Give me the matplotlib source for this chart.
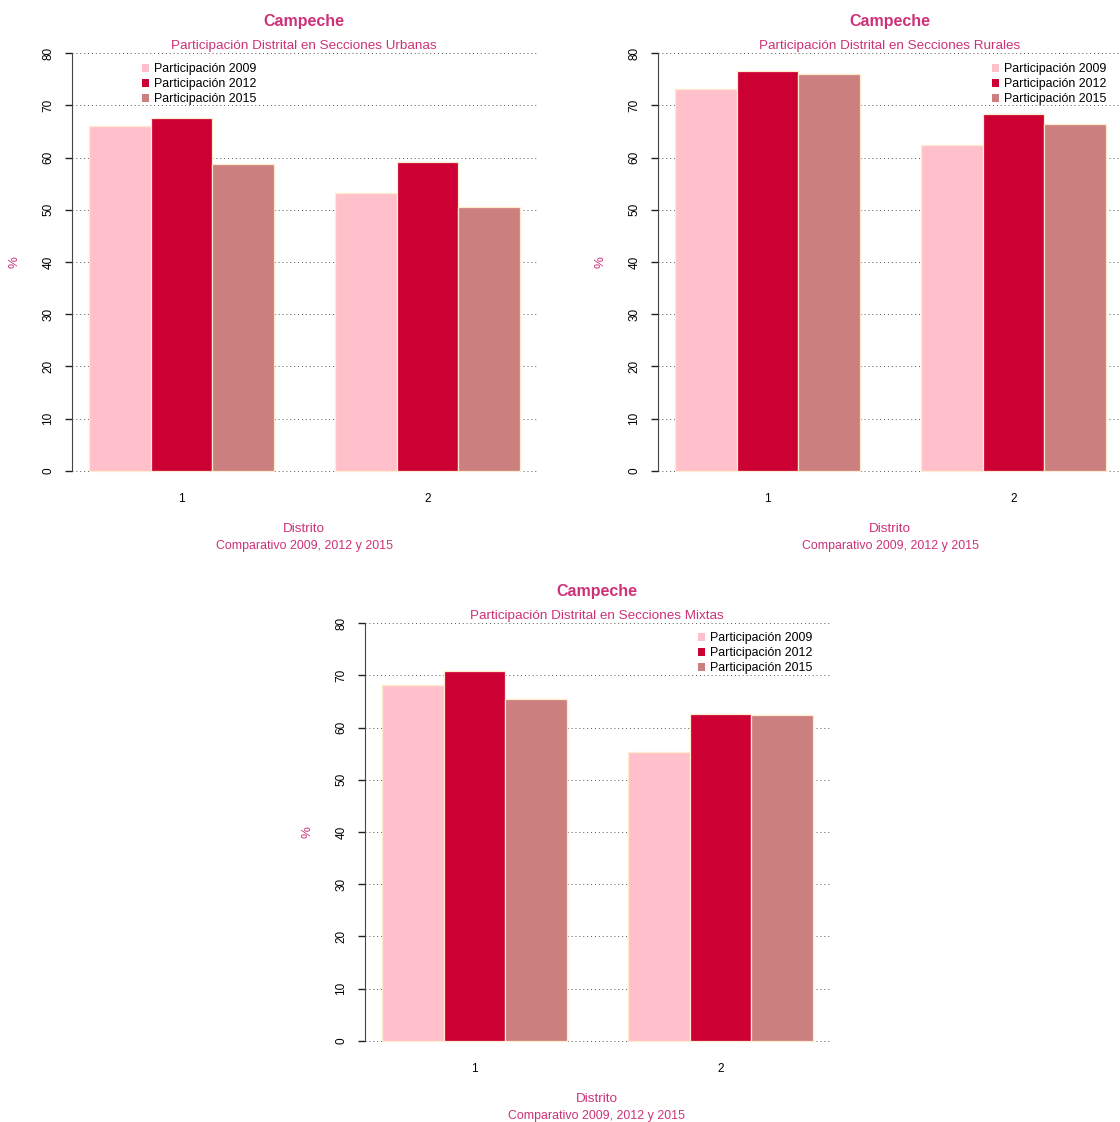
import matplotlib
matplotlib.use("Agg")
import matplotlib.pyplot as plt
from matplotlib.patches import Patch

plt.rcParams['font.family'] = ['Liberation Sans', 'DejaVu Sans']

W, H = 1120, 1122

districts = ["1", "2"]
series = ["Participación 2009", "Participación 2012", "Participación 2015"]
colors = ["#FFC0CB", "#CC0033", "#CC7F7F"]

urbanas_2009 = [66.0, 53.2]
urbanas_2012 = [67.6, 59.1]
urbanas_2015 = [58.8, 50.5]

rurales_2009 = [73.1, 62.4]
rurales_2012 = [76.6, 68.3]
rurales_2015 = [76.0, 66.4]

mixtas_2009 = [68.1, 55.3]
mixtas_2012 = [70.8, 62.6]
mixtas_2015 = [65.5, 62.4]

yticks = [0, 10, 20, 30, 40, 50, 60, 70, 80]

title_color = "#CD3278"
title = "Campeche"
xlabel = "Distrito"
xsub = "Comparativo 2009, 2012 y 2015"

fig = plt.figure(figsize=(W / 100, H / 100), dpi=100)


def fx(x):
    return x / W


def fy(y):
    return 1 - y / H


def panel(left, right, top, bottom, cx, subtitle, data, legend_xy):
    ax = fig.add_axes([fx(left), fy(bottom), fx(right - left), (bottom - top) / H])
    ax.set_xlim(0.72, 8.28)
    ax.set_ylim(-3.2, 83.2)
    for si, vals in enumerate(data):
        for gi, v in enumerate(vals):
            ax.bar(1 + gi * 4 + si, v, width=1, align='edge', color=colors[si],
                   edgecolor="#FFEBCD", linewidth=0.9, zorder=2)
    ax.set_yticks(yticks)
    ax.set_yticklabels([str(t) for t in yticks], rotation=90, va='center', fontsize=8.5)
    ax.set_xticks([2.5, 6.5])
    ax.set_xticklabels(districts, fontsize=8.5)
    ax.tick_params(axis='x', length=0, pad=3.5)
    ax.tick_params(axis='y', length=5, width=1, pad=7.5, color='#222222')
    for s in ['top', 'right', 'bottom']:
        ax.spines[s].set_visible(False)
    ax.spines['left'].set_bounds(0, 80)
    ax.spines['left'].set_color('#444444')
    ax.yaxis.grid(True, linestyle=(0, (1, 3)), color='#555555', linewidth=0.7)
    ax.set_axisbelow(True)
    top_px = top + 3.2 * (bottom - top) / 86.4
    fig.text(fx(cx), fy(top_px - 32), title, ha='center', va='center', fontsize=11.5,
             fontweight='bold', color=title_color)
    fig.text(fx(cx), fy(top_px - 7), subtitle, ha='center', va='center', fontsize=9.7,
             color=title_color)
    bot0 = bottom - 3.2 * (bottom - top) / 86.4
    fig.text(fx(cx), fy(bot0 + 58), xlabel, ha='center', va='center', fontsize=9.7,
             color=title_color)
    fig.text(fx(cx), fy(bot0 + 75), xsub, ha='center', va='center', fontsize=8.9,
             color=title_color)
    fig.text(fx(left - 57), fy((top + bottom) / 2), "%", ha='center', va='center',
             rotation=90, fontsize=9.5, color=title_color)
    handles = [Patch(facecolor=c, edgecolor='none') for c in colors]
    fig.legend(handles, series, loc='upper left',
               bbox_to_anchor=(fx(legend_xy[0]), fy(legend_xy[1])),
               frameon=False, fontsize=8.9, handlelength=0.6, handleheight=0.6,
               handletextpad=0.4, labelspacing=0.25, borderpad=0, borderaxespad=0)
    return ax


panel(71.8, 537.2, 36.3, 487.7, 304, "Participación Distrital en Secciones Urbanas",
      [urbanas_2009, urbanas_2012, urbanas_2015], (142, 63))
panel(657.8, 1123.2, 36.3, 487.7, 890, "Participación Distrital en Secciones Rurales",
      [rurales_2009, rurales_2012, rurales_2015], (992, 63))
panel(364.8, 830.3, 606.3, 1057.7, 597, "Participación Distrital en Secciones Mixtas",
      [mixtas_2009, mixtas_2012, mixtas_2015], (698, 632))

fig.savefig("out.png", dpi=100)
